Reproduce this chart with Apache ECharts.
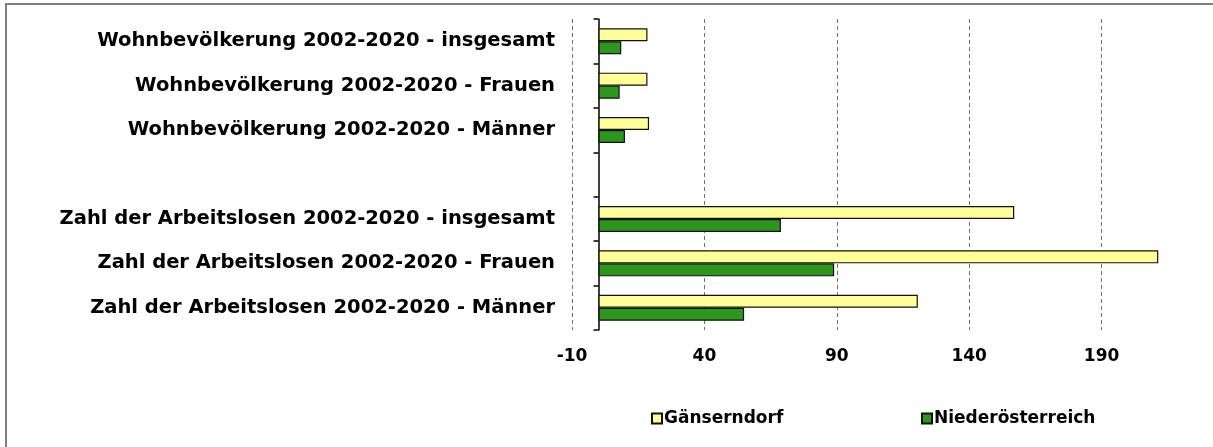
<!DOCTYPE html>
<html>
<head>
<meta charset="utf-8">
<script src="https://cdn.jsdelivr.net/npm/echarts@6/dist/echarts.min.js"></script>
<style>
  html, body { margin: 0; padding: 0; background: #fff; }
  #chart { width: 1213px; height: 447px; }
</style>
</head>
<body>
<div id="chart"></div>
<script>
// categories from top to bottom (empty row separates the two blocks)
const categories = [
  'Wohnbevölkerung 2002-2020 - insgesamt',
  'Wohnbevölkerung 2002-2020 - Frauen',
  'Wohnbevölkerung 2002-2020 - Männer',
  '',
  'Zahl der Arbeitslosen 2002-2020 - insgesamt',
  'Zahl der Arbeitslosen 2002-2020 - Frauen',
  'Zahl der Arbeitslosen 2002-2020 - Männer'
]
// change in %
const gaenserndorf = [18.5, 18.5, 19.1, null, 157, 211.4, 120.6]
const niederoesterreich = [8.6, 8.0, 10.0, null, 68.9, 89, 55]

const FONT = 'DejaVu Sans'

const chart = echarts.init(document.getElementById('chart'))
chart.setOption({
  backgroundColor: '#fff',
  animation: false,
  textStyle: { fontFamily: FONT },
  graphic: [{
    type: 'rect',
    shape: { x: 6, y: 4, width: 1400, height: 600 },
    style: { fill: 'none', stroke: '#808080', lineWidth: 2 },
    silent: true
  }],
  grid: {
    left: 572,
    right: -21,
    top: 19,
    bottom: 117,
    containLabel: false,
    outerBoundsMode: 'none'
  },
  legend: [{
    data: ['Gänserndorf'],
    left: 646,
    top: 405,
    itemWidth: 10,
    itemHeight: 10,
    icon: 'rect',
    textStyle: { fontFamily: FONT, fontWeight: 'bold', fontSize: 17, color: '#000', padding: [0, 0, 0, -3] }
  }, {
    data: ['Niederösterreich'],
    left: 916,
    top: 405,
    itemWidth: 10,
    itemHeight: 10,
    icon: 'rect',
    textStyle: { fontFamily: FONT, fontWeight: 'bold', fontSize: 17, color: '#000', padding: [0, 0, 0, -3] }
  }],
  xAxis: {
    type: 'value',
    min: -10,
    max: 240,
    interval: 50,
    axisLine: { show: false },
    axisTick: { show: false },
    axisLabel: {
      margin: 18,
      color: '#000',
      fontFamily: FONT,
      fontWeight: 'bold',
      fontSize: 17
    },
    splitLine: {
      show: true,
      lineStyle: { color: '#707070', type: [4, 3], width: 1 }
    }
  },
  yAxis: {
    type: 'category',
    inverse: true,
    data: categories,
    axisLine: { onZero: true, lineStyle: { color: '#000', width: 1.5 } },
    axisTick: { show: true, length: 5, lineStyle: { color: '#000', width: 1.5 } },
    axisLabel: {
      margin: 17,
      color: '#000',
      fontFamily: FONT,
      fontWeight: 'bold',
      fontSize: 19.5
    },
    splitLine: { show: false }
  },
  series: [{
    name: 'Gänserndorf',
    type: 'bar',
    barWidth: 13,
    barGap: '0%',
    itemStyle: { color: '#ffff99', borderColor: '#111', borderWidth: 1.2 },
    data: gaenserndorf
  }, {
    name: 'Niederösterreich',
    type: 'bar',
    barWidth: 13,
    barGap: '0%',
    itemStyle: { color: '#2d961c', borderColor: '#111', borderWidth: 1.2 },
    data: niederoesterreich
  }]
})
</script>
</body>
</html>
